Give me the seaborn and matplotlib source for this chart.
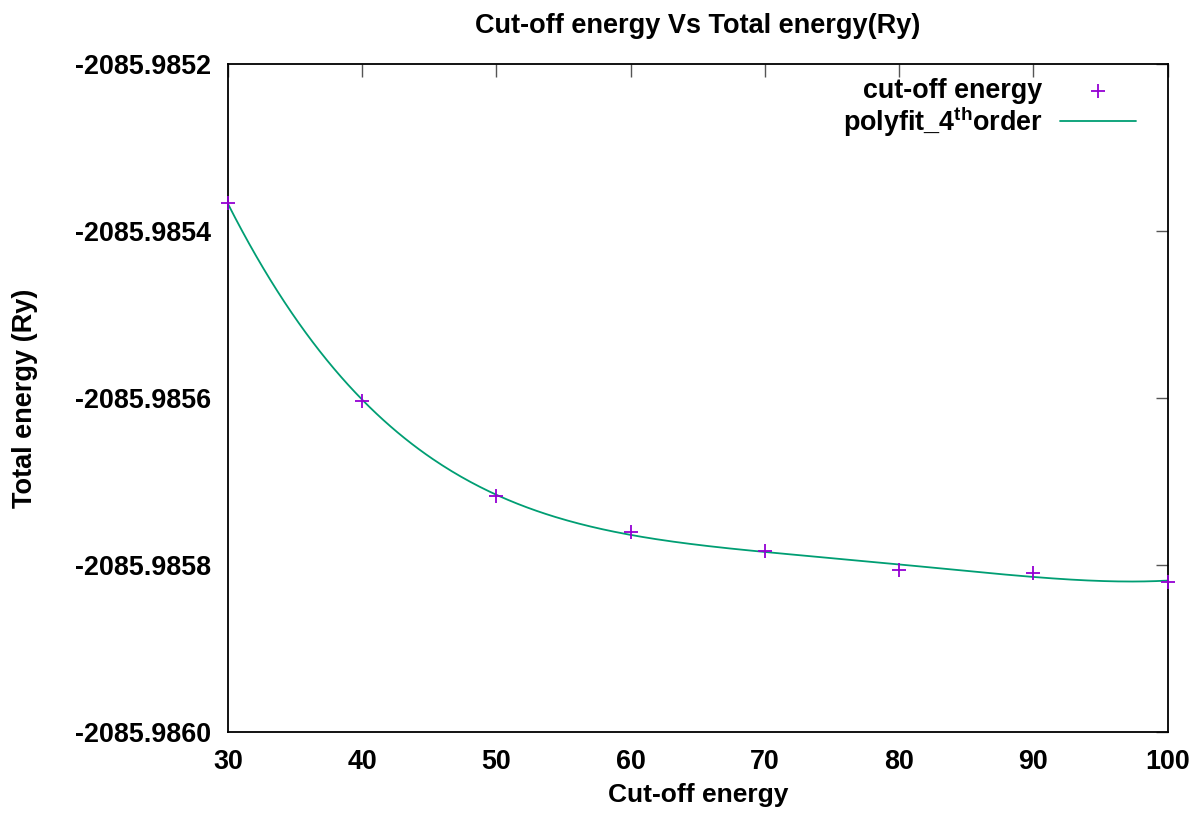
import numpy as np
import pandas as pd
import matplotlib
matplotlib.use("Agg")
import matplotlib.pyplot as plt
from matplotlib.ticker import FixedLocator, FormatStrFormatter
import seaborn as sns

# Convergence test: total energy (Ry) for each plane-wave cut-off
cutoff = [30, 40, 50, 60, 70, 80, 90, 100]
total_energy = [-2085.985367, -2085.985603, -2085.985717, -2085.985761,
                -2085.985783, -2085.985806, -2085.985809, -2085.985820]
x_ticks = [30, 40, 50, 60, 70, 80, 90, 100]
y_ticks = [-2085.9860, -2085.9858, -2085.9856, -2085.9854, -2085.9852]

sns.set_theme(style="white")
plt.rcParams["font.family"] = ["Liberation Sans", "DejaVu Sans"]
plt.rcParams["font.weight"] = "bold"
plt.rcParams["text.color"] = "black"
plt.rcParams["axes.labelcolor"] = "black"
plt.rcParams["xtick.color"] = "#555555"
plt.rcParams["ytick.color"] = "#555555"
plt.rcParams["xtick.labelcolor"] = "black"
plt.rcParams["ytick.labelcolor"] = "black"
plt.rcParams["axes.unicode_minus"] = False
plt.rcParams["mathtext.fontset"] = "custom"
plt.rcParams["mathtext.rm"] = "Liberation Sans:bold"
plt.rcParams["mathtext.bf"] = "Liberation Sans:bold"

df = pd.DataFrame({"cutoff": cutoff, "energy": total_energy})

# 4th-order polynomial fit (shifted to keep the fit well conditioned)
e0 = df["energy"].mean()
coef = np.polyfit(df["cutoff"], df["energy"] - e0, 4)
xf = np.linspace(min(cutoff), max(cutoff), 400)
fit = pd.DataFrame({"cutoff": xf, "energy": np.polyval(coef, xf) + e0})

fig = plt.figure(figsize=(12.03, 8.14), dpi=100)
ax = fig.add_axes([0.1895, 0.1007, 0.7811, 0.8207])

sns.scatterplot(data=df, x="cutoff", y="energy", marker="+", s=110,
                color="#9400d3", linewidth=1.3, ax=ax, label="cut-off energy",
                zorder=3, clip_on=False)
sns.lineplot(data=fit, x="cutoff", y="energy", color="#009e73", linewidth=1.3,
             ax=ax, label=r"polyfit_4$^{\mathrm{th}}$order", zorder=2)

ax.set_xlim(30, 100)
ax.set_ylim(-2085.9860, -2085.9852)
ax.xaxis.set_major_locator(FixedLocator(x_ticks))
ax.yaxis.set_major_locator(FixedLocator(y_ticks))
ax.yaxis.set_major_formatter(FormatStrFormatter("%.4f"))
ax.tick_params(direction="in", length=9, width=1,
               top=True, right=True, labelsize=19.4, pad=12)
for lab in ax.get_xticklabels() + ax.get_yticklabels():
    lab.set_fontweight("bold")
for sp in ax.spines.values():
    sp.set_color("black")
    sp.set_linewidth(1.3)

ax.set_xlabel("Cut-off energy", fontsize=19, fontweight="bold", labelpad=6)
ax.set_ylabel("Total energy (Ry)", fontsize=19.5, fontweight="bold",
              labelpad=27)
ax.set_title("Cut-off energy Vs Total energy(Ry)", fontsize=19.5,
             fontweight="bold", pad=22)

leg = ax.legend(loc="upper right", bbox_to_anchor=(0.966, 0.979),
                frameon=False, markerfirst=False, fontsize=19.4,
                handlelength=2.8, handletextpad=0.67, labelspacing=0.0,
                borderpad=0, borderaxespad=0)
for t in leg.get_texts():
    t.set_fontweight("bold")

fig.savefig("out.png", dpi=100)
